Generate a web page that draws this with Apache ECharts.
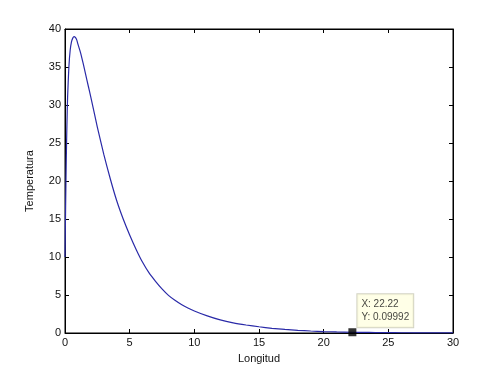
<!DOCTYPE html>
<html>
<head>
<meta charset="utf-8">
<script src="https://cdn.jsdelivr.net/npm/echarts@6/dist/echarts.min.js"></script>
<style>html,body{margin:0;padding:0;background:#fff;}#c{width:500px;height:374px;}</style>
</head>
<body>
<div id="c"></div>
<script>
const xValues = [0,0.05,0.1,0.15,0.2,0.3,0.4,0.5,0.6,0.7,0.8,0.9,1.0,1.2,1.4,1.6,1.8,2.0,2.5,3.0,3.5,4.0,4.5,5.0,5.5,6.0,6.5,7.0,7.5,8.0,8.5,9.0,9.5,10,11,12,13,14,15,16,17,18,19,20,21,22.22,23,24,25,26,27,28,29,30];
const yValues = [10,17,23,27.5,31,35,37.2,38.3,38.8,39.0,38.9,38.6,38.0,36.9,35.5,34.0,32.5,31.0,27.1,23.5,20.3,17.4,15.0,12.9,11.0,9.3,7.9,6.8,5.8,4.95,4.3,3.75,3.3,2.9,2.25,1.72,1.33,1.05,0.82,0.62,0.47,0.35,0.26,0.19,0.14,0.0999,0.08,0.06,0.045,0.035,0.025,0.02,0.015,0.01];
const xTicks = [0,5,10,15,20,25,30];
const yTicks = [0,5,10,15,20,25,30,35,40];
const tipPoint = [22.22, 0.09992];
const xLabel = 'Longitud';
const yLabel = 'Temperatura';

const font = 'Liberation Sans, Arial, sans-serif';
const chart = echarts.init(document.getElementById('c'));
const axisCommon = {
  type: 'value',
  axisLine: {show: true, onZero: false, lineStyle: {color: '#000', width: 1}},
  axisTick: {show: true, inside: true, length: 4, lineStyle: {color: '#000'}},
  splitLine: {show: false},
  axisLabel: {color: '#111', fontFamily: font, fontSize: 11}
};
chart.setOption({
  animation: false,
  backgroundColor: '#fff',
  grid: {left: 65, right: 47, top: 29, bottom: 41, show: true, borderColor: '#000', borderWidth: 1, backgroundColor: '#fff'},
  xAxis: [
    Object.assign({}, axisCommon, {position: 'bottom', min: xTicks[0], max: xTicks[xTicks.length-1], interval: 5,
      name: xLabel, nameLocation: 'middle', nameGap: 20,
      nameTextStyle: {color: '#111', fontFamily: font, fontSize: 11},
      axisLabel: Object.assign({}, axisCommon.axisLabel, {margin: 4})}),
    Object.assign({}, axisCommon, {position: 'top', min: xTicks[0], max: xTicks[xTicks.length-1], interval: 5,
      axisLabel: {show: false}})
  ],
  yAxis: [
    Object.assign({}, axisCommon, {position: 'left', min: yTicks[0], max: yTicks[yTicks.length-1], interval: 5,
      name: yLabel, nameLocation: 'middle', nameGap: 30,
      nameTextStyle: {color: '#111', fontFamily: font, fontSize: 11},
      axisLabel: Object.assign({}, axisCommon.axisLabel, {margin: 4})}),
    Object.assign({}, axisCommon, {position: 'right', min: yTicks[0], max: yTicks[yTicks.length-1], interval: 5,
      axisLabel: {show: false}})
  ],
  series: [
    {
      type: 'line',
      data: xValues.map((x, i) => [x, yValues[i]]),
      showSymbol: false,
      symbol: 'none',
      smooth: 0.2,
      clip: true,
      lineStyle: {color: '#2a2aa8', width: 1.2}
    },
    {
      type: 'scatter',
      data: [tipPoint],
      symbol: 'rect',
      symbolSize: 8,
      itemStyle: {color: '#000'},
      z: 5,
      label: {
        show: true,
        position: [9, -34],
        align: 'left',
        verticalAlign: 'top',
        formatter: p => 'X: ' + p.value[0] + '\nY: ' + p.value[1],
        fontFamily: font,
        fontSize: 10,
        lineHeight: 12.5,
        color: '#111',
        backgroundColor: '#ffffe1',
        borderColor: '#c8c8b4',
        borderWidth: 1,
        padding: [4, 4, 4, 4]
      }
    }
  ]
});
</script>
</body>
</html>
